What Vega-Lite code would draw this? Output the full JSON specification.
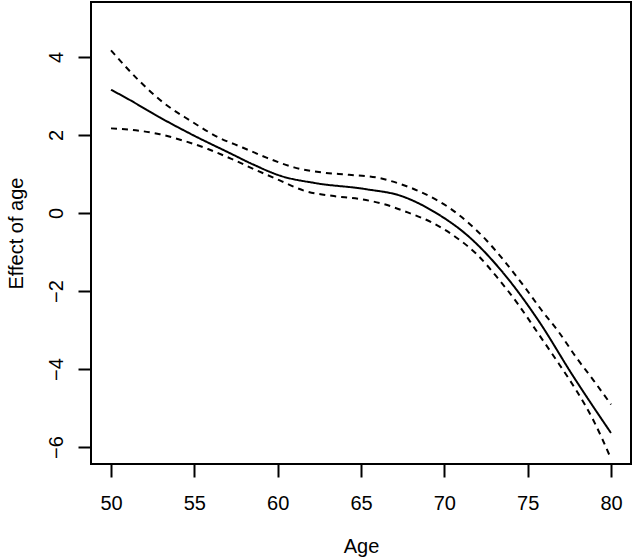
{
  "$schema": "https://vega.github.io/schema/vega-lite/v6.json",
  "width": 540,
  "height": 462,
  "autosize": {"type": "none"},
  "padding": {"left": 91, "top": 2, "right": 2, "bottom": 96},
  "background": "white",
  "config": {
    "view": {"stroke": "black", "strokeWidth": 2},
    "font": "Liberation Sans",
    "axis": {
      "domain": false,
      "grid": false,
      "ticks": true,
      "tickColor": "black",
      "tickWidth": 2,
      "tickSize": 13,
      "labelColor": "black",
      "labelFont": "Liberation Sans",
      "labelFontSize": 20,
      "titleColor": "black",
      "titleFont": "Liberation Sans",
      "titleFontSize": 20,
      "titleFontWeight": "normal"
    }
  },
  "data": {
    "values": [
      {"age": 50.0, "value": 3.16, "series": "fit"},
      {"age": 50.87, "value": 2.96, "series": "fit"},
      {"age": 52.93, "value": 2.45, "series": "fit"},
      {"age": 55.0, "value": 1.98, "series": "fit"},
      {"age": 57.06, "value": 1.55, "series": "fit"},
      {"age": 58.5, "value": 1.25, "series": "fit"},
      {"age": 60.16, "value": 0.955, "series": "fit"},
      {"age": 62.22, "value": 0.77, "series": "fit"},
      {"age": 65.32, "value": 0.61, "series": "fit"},
      {"age": 67.39, "value": 0.44, "series": "fit"},
      {"age": 69.45, "value": 0.015, "series": "fit"},
      {"age": 71.52, "value": -0.625, "series": "fit"},
      {"age": 73.58, "value": -1.56, "series": "fit"},
      {"age": 75.65, "value": -2.76, "series": "fit"},
      {"age": 77.71, "value": -4.17, "series": "fit"},
      {"age": 80.0, "value": -5.64, "series": "fit"},

      {"age": 50.0, "value": 4.17, "series": "upper"},
      {"age": 51.69, "value": 3.39, "series": "upper"},
      {"age": 53.14, "value": 2.83, "series": "upper"},
      {"age": 54.79, "value": 2.36, "series": "upper"},
      {"age": 56.44, "value": 1.94, "series": "upper"},
      {"age": 57.89, "value": 1.68, "series": "upper"},
      {"age": 59.33, "value": 1.42, "series": "upper"},
      {"age": 60.98, "value": 1.17, "series": "upper"},
      {"age": 62.64, "value": 1.04, "series": "upper"},
      {"age": 64.29, "value": 0.98, "series": "upper"},
      {"age": 65.94, "value": 0.91, "series": "upper"},
      {"age": 67.39, "value": 0.74, "series": "upper"},
      {"age": 68.83, "value": 0.49, "series": "upper"},
      {"age": 70.28, "value": 0.14, "series": "upper"},
      {"age": 71.52, "value": -0.28, "series": "upper"},
      {"age": 72.55, "value": -0.71, "series": "upper"},
      {"age": 73.58, "value": -1.22, "series": "upper"},
      {"age": 74.82, "value": -1.9, "series": "upper"},
      {"age": 75.85, "value": -2.5, "series": "upper"},
      {"age": 76.88, "value": -3.06, "series": "upper"},
      {"age": 77.91, "value": -3.7, "series": "upper"},
      {"age": 78.95, "value": -4.29, "series": "upper"},
      {"age": 80.0, "value": -4.91, "series": "upper"},

      {"age": 50.0, "value": 2.17, "series": "lower"},
      {"age": 51.49, "value": 2.12, "series": "lower"},
      {"age": 52.93, "value": 2.02, "series": "lower"},
      {"age": 54.38, "value": 1.85, "series": "lower"},
      {"age": 55.82, "value": 1.64, "series": "lower"},
      {"age": 57.27, "value": 1.38, "series": "lower"},
      {"age": 58.71, "value": 1.1, "series": "lower"},
      {"age": 60.16, "value": 0.83, "series": "lower"},
      {"age": 61.6, "value": 0.57, "series": "lower"},
      {"age": 63.26, "value": 0.44, "series": "lower"},
      {"age": 64.91, "value": 0.36, "series": "lower"},
      {"age": 66.35, "value": 0.23, "series": "lower"},
      {"age": 67.8, "value": 0.015, "series": "lower"},
      {"age": 69.24, "value": -0.24, "series": "lower"},
      {"age": 70.69, "value": -0.62, "series": "lower"},
      {"age": 71.93, "value": -1.05, "series": "lower"},
      {"age": 73.17, "value": -1.65, "series": "lower"},
      {"age": 74.41, "value": -2.33, "series": "lower"},
      {"age": 75.65, "value": -3.1, "series": "lower"},
      {"age": 76.88, "value": -3.87, "series": "lower"},
      {"age": 77.92, "value": -4.55, "series": "lower"},
      {"age": 78.95, "value": -5.32, "series": "lower"},
      {"age": 80.0, "value": -6.3, "series": "lower"}
    ]
  },
  "mark": {"type": "line", "color": "black", "strokeWidth": 2, "interpolate": "monotone", "clip": true},
  "encoding": {
    "x": {
      "field": "age",
      "type": "quantitative",
      "scale": {"domain": [48.8, 81.2], "nice": false, "zero": false},
      "axis": {
        "title": "Age",
        "values": [50, 55, 60, 65, 70, 75, 80],
        "labelPadding": 16,
        "labelFlush": false,
        "labelOverlap": false,
        "titleX": 270,
        "titleY": 88.5,
        "titleBaseline": "alphabetic",
        "titleAlign": "center"
      }
    },
    "y": {
      "field": "value",
      "type": "quantitative",
      "scale": {"domain": [-6.435, 5.41], "nice": false, "zero": false},
      "axis": {
        "title": "Effect of age",
        "values": [-6, -4, -2, 0, 2, 4],
        "labelAngle": 270,
        "labelAlign": "center",
        "labelBaseline": "alphabetic",
        "labelPadding": 16,
        "labelFlush": false,
        "labelOverlap": false,
        "titleAngle": 270,
        "titleX": -69,
        "titleY": 231,
        "titleAlign": "center",
        "titleBaseline": "alphabetic"
      }
    },
    "strokeDash": {
      "field": "series",
      "type": "nominal",
      "scale": {"domain": ["fit", "upper", "lower"], "range": [[1, 0], [6, 5], [6, 5]]},
      "legend": null
    },
    "order": {"field": "age", "type": "quantitative"}
  }
}
